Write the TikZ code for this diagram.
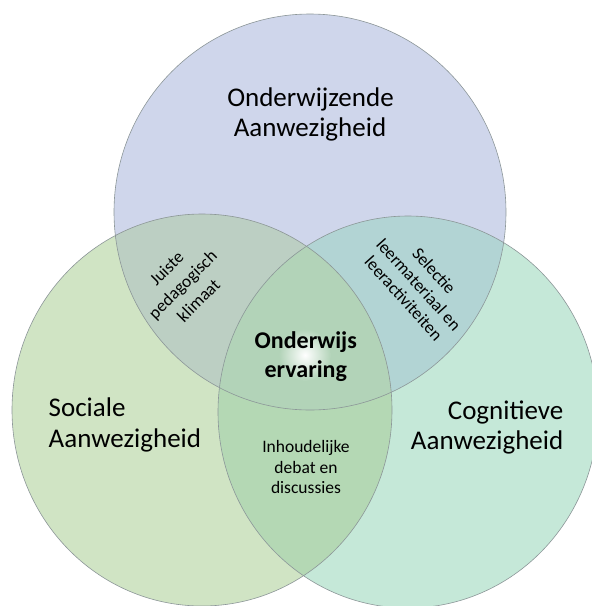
\documentclass[tikz,border=0pt]{standalone}
\usepackage{fontspec}
\setmainfont{Carlito}
\definecolor{ctopc}{RGB}{207,214,235}
\definecolor{cleftc}{RGB}{208,228,196}
\definecolor{crightc}{RGB}{197,232,216}
\definecolor{ctlc}{RGB}{188,207,195}
\definecolor{ctrc}{RGB}{178,212,212}
\definecolor{clrc}{RGB}{180,216,180}
\definecolor{callc}{RGB}{178,211,184}
\definecolor{cbord}{RGB}{140,150,152}
\begin{document}
\begin{tikzpicture}[x=1pt,y=-1pt,
  bigtxt/.style={inner sep=0pt,font=\fontsize{27}{29}\selectfont},
  boldtxt/.style={inner sep=0pt,font=\fontsize{24}{29}\selectfont\bfseries},
  smalltxt/.style={inner sep=0pt,font=\fontsize{17.5}{21.5}\selectfont,align=center},
  rim/.style={draw=cbord,line width=0.6pt}]
\useasboundingbox (0,0) rectangle (592,606);
% base fills
\fill[ctopc] (310,212) ellipse [x radius=196pt,y radius=198pt];
\fill[cleftc] (202,410) ellipse [x radius=190pt,y radius=196pt];
\fill[crightc] (408,412) ellipse [x radius=190pt,y radius=196pt];
% pairwise overlaps
\begin{scope}
  \clip (310,212) ellipse [x radius=196pt,y radius=198pt];
  \fill[ctlc] (202,410) ellipse [x radius=190pt,y radius=196pt];
\end{scope}
\begin{scope}
  \clip (310,212) ellipse [x radius=196pt,y radius=198pt];
  \fill[ctrc] (408,412) ellipse [x radius=190pt,y radius=196pt];
\end{scope}
\begin{scope}
  \clip (202,410) ellipse [x radius=190pt,y radius=196pt];
  \fill[clrc] (408,412) ellipse [x radius=190pt,y radius=196pt];
\end{scope}
% triple overlap with glow
\begin{scope}
  \clip (310,212) ellipse [x radius=196pt,y radius=198pt];
  \clip (202,410) ellipse [x radius=190pt,y radius=196pt];
  \fill[callc] (408,412) ellipse [x radius=190pt,y radius=196pt];
  \shade[inner color=white,outer color=callc] (305,355) circle (26pt);
\end{scope}
% outlines
\draw[rim] (310,212) ellipse [x radius=196pt,y radius=198pt];
\draw[rim] (202,410) ellipse [x radius=190pt,y radius=196pt];
\draw[rim] (408,412) ellipse [x radius=190pt,y radius=196pt];
% main labels
\node[bigtxt,anchor=base] (t1) at (310.5,106.5) {Onderwijzende};
\node[bigtxt,anchor=base] (t2) at (310,136) {Aanwezigheid};
\node[bigtxt,anchor=base west] (s1) at (48.5,416.5) {Sociale};
\node[bigtxt,anchor=base west] (s2) at (48.5,447.5) {Aanwezigheid};
\node[bigtxt,anchor=base east] (c1) at (563.5,419.5) {Cognitieve};
\node[bigtxt,anchor=base east] (c2) at (563.5,449) {Aanwezigheid};
% centre
\node[boldtxt,anchor=base] (o1) at (305.8,348) {Onderwijs};
\node[boldtxt,anchor=base] (o2) at (305.8,377) {ervaring};
% overlaps
\node[smalltxt,rotate=45,font=\fontsize{17.5}{22.5}\selectfont] (pk) at (182.5,284.5) {Juiste\\pedagogisch\\klimaat};
\node[smalltxt,rotate=-48,font=\fontsize{17.5}{20.5}\selectfont] (sl) at (419,284.5) {Selectie\\leermateriaal en\\leeractiviteiten};
\node[smalltxt,anchor=base] (i1) at (306,452.5) {Inhoudelijke};
\node[smalltxt,anchor=base] (i2) at (306,473) {debat en};
\node[smalltxt,anchor=base] (i3) at (306,493.5) {discussies};
\end{tikzpicture}
\end{document}
